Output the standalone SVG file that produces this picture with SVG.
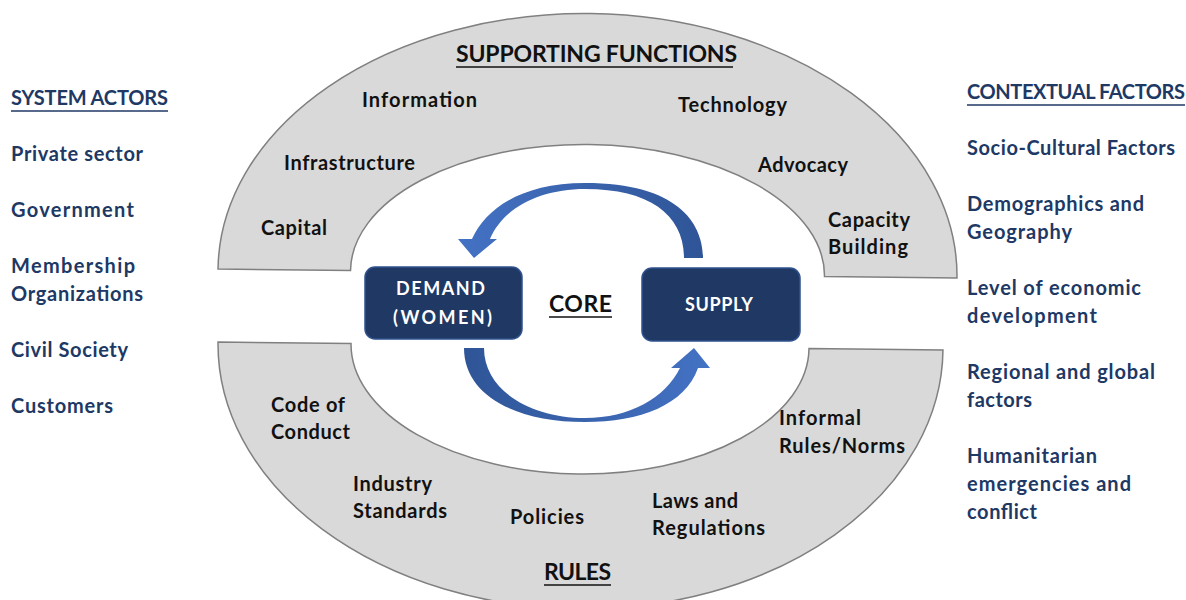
<svg xmlns="http://www.w3.org/2000/svg" width="1186" height="600" viewBox="0 0 1186 600">
<style>
.band{fill:#d9d9d9;stroke:#808080;stroke-width:1.5}
.lbl{font-family:Lato,"Liberation Sans",sans-serif;font-weight:bold;font-size:20px;fill:#111}
.side{font-family:Lato,"Liberation Sans",sans-serif;font-weight:bold;font-size:20px;fill:#203864}
.hdr{font-family:Lato,"Liberation Sans",sans-serif;font-weight:bold;font-size:23px;fill:#111}
.box{fill:#203864;stroke:#2f528f;stroke-width:1.5}
.btxt{font-family:Lato,"Liberation Sans",sans-serif;font-weight:bold;font-size:18px;fill:#fff}
.ul{stroke:#111;stroke-width:1.6}
.uls{stroke:#203864;stroke-width:1.6}
</style>
<defs>
<linearGradient id="gTop" x1="0" y1="0" x2="1" y2="0">
<stop offset="0" stop-color="#4472c4"/><stop offset="1" stop-color="#2f5597"/>
</linearGradient>
<linearGradient id="gBot" x1="0" y1="0" x2="1" y2="0">
<stop offset="0" stop-color="#2f5597"/><stop offset="1" stop-color="#4472c4"/>
</linearGradient>
</defs>
<g id="supporting-functions">
<path class="band" transform="rotate(0.7 587.5 273.5)" d="M218,273.5 A369.5,260 0 0 1 957,273.5 L824.5,273.5 A237,129 0 0 0 350.5,273.5 Z"/>
<text class="hdr" x="456" y="62" textLength="281">SUPPORTING FUNCTIONS</text>
<line class="ul" x1="456" y1="67" x2="733" y2="67"/>
<text class="lbl" x="362" y="107" textLength="115">Information</text>
<text class="lbl" x="678" y="112" textLength="109">Technology</text>
<text class="lbl" x="284" y="170" textLength="131">Infrastructure</text>
<text class="lbl" x="758" y="172" textLength="90">Advocacy</text>
<text class="lbl" x="261" y="235" textLength="66">Capital</text>
<text class="lbl" x="828" y="227" textLength="82">Capacity</text>
<text class="lbl" x="828" y="254" textLength="80">Building</text>
</g>
<g id="rules">
<path class="band" transform="rotate(0.63 580.5 346)" d="M218,346 L351,346 A229,128 0 0 0 809,346 L943,346 A362.5,263 0 0 1 218,346 Z"/>
<text class="lbl" x="271" y="412" textLength="74">Code of</text>
<text class="lbl" x="271" y="439" textLength="79">Conduct</text>
<text class="lbl" x="353" y="491" textLength="79">Industry</text>
<text class="lbl" x="353" y="518" textLength="94">Standards</text>
<text class="lbl" x="510" y="524" textLength="74">Policies</text>
<text class="lbl" x="652" y="508" textLength="86">Laws and</text>
<text class="lbl" x="652" y="535" textLength="113">Regulations</text>
<text class="lbl" x="779" y="425" textLength="82">Informal</text>
<text class="lbl" x="779" y="453" textLength="126">Rules/Norms</text>
<text class="hdr" x="544" y="580" textLength="67">RULES</text>
<line class="ul" x1="544" y1="585" x2="611" y2="585"/>
</g>
<g id="demand">
<rect class="box" x="365" y="267" width="157" height="72" rx="10"/>
<text class="btxt" x="396" y="295" textLength="89">DEMAND</text>
<text class="btxt" x="393" y="324" textLength="99">(WOMEN)</text>
</g>
<g id="supply">
<rect class="box" x="642" y="268" width="158" height="73" rx="10"/>
<text class="btxt" x="685" y="311" textLength="68">SUPPLY</text>
</g>
<g id="core">
<text class="hdr" x="549" y="312" textLength="63">CORE</text>
<line class="ul" x1="549" y1="317" x2="612" y2="317"/>
</g>
<g id="connectors">
<path fill="url(#gTop)" d="M684,258 L703,258 C703,225 680,183 585,183 C520,183 485,210 472,239 L458,239 L474,258 L497,239 L490,239 C503,208 540,189 585,189 C650,189 684,215 684,258 Z"/>
<path fill="url(#gBot)" d="M464,348 L484,348 C484,390 530,418 585,418 C630,418 665,398 680,368 L671,368 L694,348 L710,368 L698,368 C685,405 640,422 585,422 C515,422 464,395 464,348 Z"/>
</g>
<g id="system-actors">
<text class="side" x="11" y="105" textLength="157">SYSTEM ACTORS</text>
<line class="uls" x1="11" y1="111" x2="168" y2="111"/>
<text class="side" x="11" y="161" textLength="132">Private sector</text>
<text class="side" x="11" y="217" textLength="123">Government</text>
<text class="side" x="11" y="273" textLength="124">Membership</text>
<text class="side" x="11" y="301" textLength="132">Organizations</text>
<text class="side" x="11" y="357" textLength="117">Civil Society</text>
<text class="side" x="11" y="413" textLength="102">Customers</text>
</g>
<g id="contextual-factors">
<text class="side" x="967" y="99" textLength="218">CONTEXTUAL FACTORS</text>
<line class="uls" x1="967" y1="105" x2="1185" y2="105"/>
<text class="side" x="967" y="155" textLength="208">Socio-Cultural Factors</text>
<text class="side" x="967" y="211" textLength="177">Demographics and</text>
<text class="side" x="967" y="239" textLength="105">Geography</text>
<text class="side" x="967" y="295" textLength="174">Level of economic</text>
<text class="side" x="967" y="323" textLength="130">development</text>
<text class="side" x="967" y="379" textLength="188">Regional and global</text>
<text class="side" x="967" y="407" textLength="65">factors</text>
<text class="side" x="967" y="463" textLength="130">Humanitarian</text>
<text class="side" x="967" y="491" textLength="164">emergencies and</text>
<text class="side" x="967" y="519" textLength="70">conflict</text>
</g>
</svg>
